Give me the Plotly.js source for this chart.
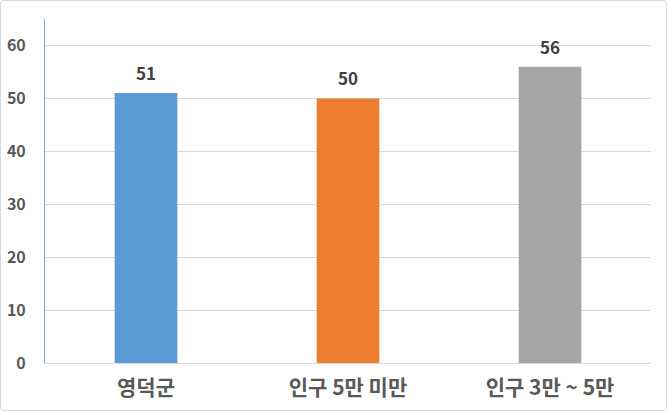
<!DOCTYPE html>
<html>
<head>
<meta charset="utf-8">
<script src="https://cdn.plot.ly/plotly-3.0.1.min.js"></script>
<style>
  body { margin: 0; background: #fff; }
  #chart { width: 667px; height: 411px; position: absolute; left: 0; top: 0; }
  #frame { position: absolute; left: 0; top: 0; width: 667px; height: 411px;
           box-sizing: border-box; border: 1px solid #D9D9D9; border-radius: 3px;
           pointer-events: none; }
</style>
</head>
<body>
<div id="chart"></div>
<div id="frame"></div>
<script>
// categories and values
var categories = ['영덕군', '인구 5만 미만', '인구 3만 ~ 5만'];
var values = [51, 50, 56];
var barColors = ['#5B9BD5', '#ED7D31', '#A5A5A5'];
var yTicks = [0, 10, 20, 30, 40, 50, 60];

var trace = {
  x: categories,
  y: values,
  type: 'bar',
  marker: { color: barColors },
  hoverinfo: 'none'
};

// value labels above the bars
var labels = categories.map(function (c, i) {
  return {
    x: c, y: values[i], xref: 'x', yref: 'y',
    text: String(values[i]),
    showarrow: false,
    yanchor: 'bottom',
    yshift: 6,
    font: { family: 'Noto Sans CJK KR', size: 17, color: '#404040', weight: 'bold' }
  };
});

var layout = {
  width: 667,
  height: 411,
  margin: { l: 45, r: 16, t: 19, b: 48 },
  paper_bgcolor: '#fff',
  plot_bgcolor: '#fff',
  showlegend: false,
  bargap: 0.69,
  font: { family: 'Noto Sans CJK KR' },
  annotations: labels,
  xaxis: {
    type: 'category',
    showgrid: false,
    showline: true,
    linecolor: '#D9D9D9',
    linewidth: 1,
    ticks: '',
    ticklabelstandoff: 6,
    tickfont: { family: 'Noto Sans CJK KR', size: 21, color: '#595959', weight: 'bold' }
  },
  yaxis: {
    range: [0, 65],
    tickvals: yTicks,
    ticktext: yTicks.map(String),
    showgrid: true,
    gridcolor: '#D9D9D9',
    gridwidth: 1,
    zeroline: false,
    showline: true,
    linecolor: '#7FA7D8',
    linewidth: 1,
    ticks: '',
    ticklabelstandoff: 15,
    tickfont: { family: 'Noto Sans CJK KR', size: 16, color: '#595959', weight: 'bold' }
  }
};

Plotly.newPlot('chart', [trace], layout, { displayModeBar: false, staticPlot: true });
</script>
</body>
</html>
